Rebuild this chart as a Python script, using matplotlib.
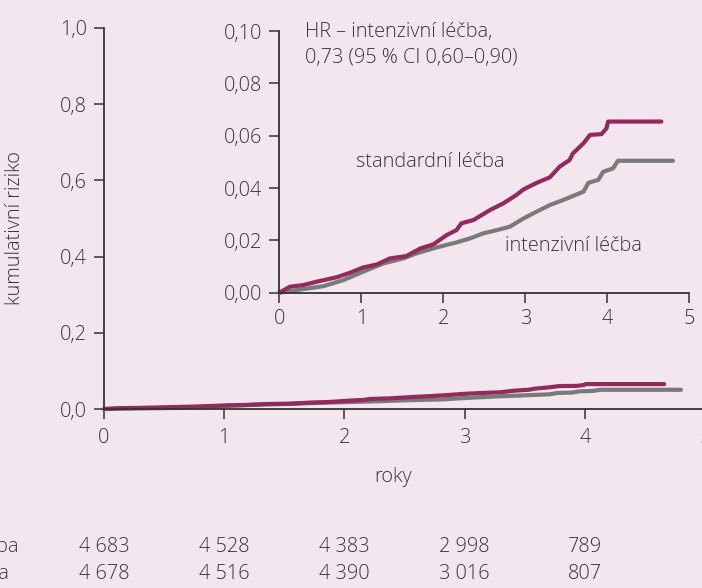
import matplotlib
matplotlib.use("Agg")
import matplotlib.pyplot as plt
from matplotlib.transforms import blended_transform_factory

plt.rcParams['font.family'] = ['Open Sans', 'DejaVu Sans']
plt.rcParams['font.weight'] = 'light'

# Data
std_t = [0, 0.13, 0.29, 0.455, 0.70, 0.86, 1.02, 1.19, 1.35, 1.55, 1.72, 1.88, 2.04, 2.16, 2.22,
         2.37, 2.57, 2.73, 2.89, 2.98, 3.14, 3.30, 3.42, 3.54, 3.58, 3.71, 3.79, 3.93, 3.99, 4.01, 4.66]
std_v = [0, 0.0023, 0.0029, 0.0042, 0.0059, 0.0076, 0.0096, 0.0108, 0.0131, 0.0140, 0.0169, 0.0185,
         0.0220, 0.0239, 0.0265, 0.0278, 0.0316, 0.0341, 0.0373, 0.0395, 0.0420, 0.0441, 0.0482,
         0.0507, 0.0532, 0.0571, 0.0603, 0.0606, 0.0628, 0.0654, 0.0654]
int_t = [0, 0.21, 0.54, 0.78, 1.02, 1.27, 1.51, 1.67, 1.92, 2.16, 2.33, 2.49, 2.65, 2.81, 2.98,
         3.14, 3.30, 3.46, 3.63, 3.71, 3.77, 3.89, 3.95, 4.07, 4.13, 4.80]
int_v = [0, 0.0010, 0.0025, 0.0048, 0.0080, 0.0112, 0.0131, 0.0150, 0.0173, 0.0192, 0.0208, 0.0227,
         0.0239, 0.0252, 0.0284, 0.0310, 0.0335, 0.0354, 0.0376, 0.0386, 0.0420, 0.0431, 0.0462,
         0.0475, 0.0504, 0.0504]

risk_times = [0, 1, 2, 3, 4]
risk_std = ["4 683", "4 528", "4 383", "2 998", "789"]
risk_int = ["4 678", "4 516", "4 390", "3 016", "807"]
row_labels = ["standardní léčba", "intenzivní léčba"]

main_yticks = [0.0, 0.2, 0.4, 0.6, 0.8, 1.0]
main_ylabels = ["0,0", "0,2", "0,4", "0,6", "0,8", "1,0"]
inset_yticks = [0.00, 0.02, 0.04, 0.06, 0.08, 0.10]
inset_ylabels = ["0,00", "0,02", "0,04", "0,06", "0,08", "0,10"]
xticks = [0, 1, 2, 3, 4, 5]

BG = "#F3E6EE"
C_STD = "#922A5E"
C_INT = "#7A7A7A"
TXT = "#363636"
FS = 14.3

fig = plt.figure(figsize=(7.02, 5.88), dpi=100, facecolor=BG)

def style(ax):
    ax.set_facecolor(BG)
    for s in ["top", "right"]:
        ax.spines[s].set_visible(False)
    for s in ["left", "bottom"]:
        ax.spines[s].set_color("#333333")
        ax.spines[s].set_linewidth(1.3)
    ax.tick_params(direction="out", length=7, width=1.1, color="#333333",
                   labelsize=FS, labelcolor=TXT)

# main axes
ax = fig.add_axes([104/702, (588-409)/588, (705-104)/702, 381/588])
style(ax)
ax.patch.set_alpha(0)
ax.plot(int_t, int_v, color=C_INT, lw=3, solid_capstyle="round", clip_on=False)
ax.plot(std_t, std_v, color=C_STD, lw=3, solid_capstyle="round", clip_on=False)
ax.set_xlim(0, 5)
ax.set_ylim(0, 1.0)
ax.set_xticks(xticks)
ax.set_xticklabels([str(x) for x in xticks])
ax.set_yticks(main_yticks)
ax.set_yticklabels(main_ylabels)
ax.tick_params(axis="y", pad=5)
ax.tick_params(axis="x", pad=7)

fig.text(15/702, 1 - 228/588, "kumulativní riziko", rotation=90, ha="center", va="center",
         fontsize=FS, color=TXT)
fig.text(393/702, 1 - 477/588, "roky", ha="center", va="center", fontsize=FS, color=TXT)

tr = blended_transform_factory(ax.transData, fig.transFigure)
for t, s in zip(risk_times, risk_std):
    ax.text(t, 1 - 547/588, s, transform=tr, ha="center", va="center", fontsize=FS, color=TXT)
for t, s in zip(risk_times, risk_int):
    ax.text(t, 1 - 574/588, s, transform=tr, ha="center", va="center", fontsize=FS, color=TXT)
fig.text(18/702, 1 - 547/588, row_labels[0], ha="right", va="center", fontsize=FS, color=TXT)
fig.text(9/702, 1 - 574/588, row_labels[1], ha="right", va="center", fontsize=FS, color=TXT)

# inset
ins = fig.add_axes([279.3/702, (588-292.7)/588, 410/702, 261.7/588])
style(ins)
ins.plot(int_t, int_v, color=C_INT, lw=3, solid_capstyle="round", clip_on=False)
ins.plot(std_t, std_v, color=C_STD, lw=3, solid_capstyle="round", clip_on=False)
ins.set_xlim(0, 5)
ins.set_ylim(0, 0.10)
ins.set_xticks(xticks)
ins.set_xticklabels([str(x) for x in xticks])
ins.set_yticks(inset_yticks)
ins.set_yticklabels(inset_ylabels)
ins.tick_params(axis="y", pad=5)
ins.tick_params(axis="x", pad=5)

ins.text(0.31, 0.0996, "HR – intenzivní léčba,", ha="left", va="center", fontsize=FS, color=TXT)
ins.text(0.31, 0.0897, "0,73 (95 % CI 0,60–0,90)", ha="left", va="center", fontsize=FS, color=TXT)
ins.text(0.935, 0.0499, "standardní léčba", ha="left", va="center", fontsize=FS, color=TXT)
ins.text(2.75, 0.0178, "intenzivní léčba", ha="left", va="center", fontsize=FS, color=TXT)

fig.savefig("out.png", dpi=100, facecolor=BG)
